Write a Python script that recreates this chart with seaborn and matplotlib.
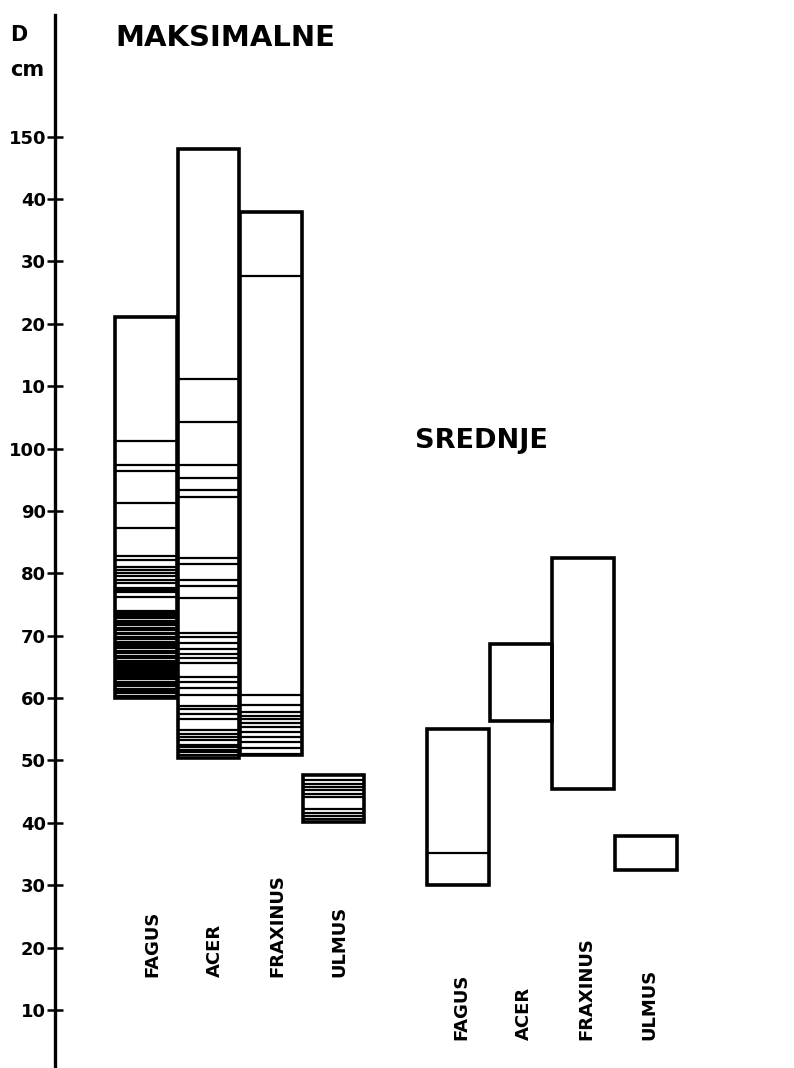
import pandas as pd
import matplotlib.pyplot as plt
import seaborn as sns

species = ["FAGUS", "ACER", "FRAXINUS", "ULMUS"]

# MAKSIMALNE: raspon promjera (cm) i pojedinacna stabla
max_low = [60.0, 50.4, 50.8, 40.2]
max_high = [121.1, 148.0, 138.0, 47.7]
fagus_max = [60.4, 60.8, 61.2, 61.5, 62.0, 62.3, 62.6, 63.0, 63.3, 63.7,
             64.0, 64.3, 64.6, 65.0, 65.3, 65.7, 66.0, 66.4, 66.8, 67.2,
             67.5, 68.0, 68.3, 68.7, 69.0, 69.4, 69.8, 70.2, 70.5, 70.9,
             71.3, 71.7, 72.0, 72.4, 72.8, 73.1, 73.4, 73.7, 74.0,
             76.2, 77.0, 77.3, 77.6, 78.4, 78.9, 79.5, 80.0, 80.5, 81.0,
             82.2, 82.8, 87.3, 91.2, 96.4, 97.4, 101.2]
acer_max = [50.9, 51.3, 51.7, 52.1, 52.5, 53.3, 53.8, 54.3, 54.9, 56.7,
            57.5, 58.2, 58.7, 60.5, 61.6, 62.5, 63.4, 65.7, 66.4, 67.0,
            67.8, 68.9, 69.8, 70.4, 76.1, 78.0, 78.9, 81.5, 82.4, 92.2,
            93.3, 95.3, 97.3, 104.3, 111.2]
fraxinus_max = [51.1, 52.0, 53.0, 53.8, 54.6, 55.4, 56.0, 56.6, 57.2,
                57.7, 58.9, 60.5, 127.6]
ulmus_max = [40.6, 41.1, 41.6, 42.2, 44.1, 44.7, 45.3, 45.8, 46.3, 46.9]

# SREDNJE: raspon i unutarnja crta
sred_low = [30.0, 56.3, 45.4, 32.4]
sred_high = [55.0, 68.7, 82.4, 37.9]
fagus_sred = [35.2]

y_ticks = [10, 20, 30, 40, 50, 60, 70, 80, 90, 100, 110, 120, 130, 140, 150]
y_labels = ["10", "20", "30", "40", "50", "60", "70", "80", "90", "100",
            "10", "20", "30", "40", "150"]

max_pos = [0, 1, 2, 3]
sred_pos = [5, 6, 7, 8]

lines = pd.concat([
    pd.DataFrame({"x": max_pos[0], "d": fagus_max}),
    pd.DataFrame({"x": max_pos[1], "d": acer_max}),
    pd.DataFrame({"x": max_pos[2], "d": fraxinus_max}),
    pd.DataFrame({"x": max_pos[3], "d": ulmus_max}),
    pd.DataFrame({"x": sred_pos[0], "d": fagus_sred}),
], ignore_index=True)

sns.set_theme(style="white")
plt.rcParams["font.family"] = ["DejaVu Sans"]
plt.rcParams["text.color"] = "black"
plt.rcParams["ytick.color"] = "black"
plt.rcParams["ytick.labelcolor"] = "black"

fig = plt.figure(figsize=(7.94, 10.68), dpi=100)
ax = fig.add_axes([55 / 794, 0, 1 - 55 / 794, 1 - 15 / 1068])

w = 0.99
# pojedinacna stabla
ax.hlines(lines["d"], lines["x"] - w / 2, lines["x"] + w / 2,
          color="black", linewidth=1.6)

# okviri
for pos, lo, hi in zip(max_pos + sred_pos, max_low + sred_low, max_high + sred_high):
    ax.bar(pos, hi - lo, bottom=lo, width=w, fill=False,
           edgecolor="black", linewidth=2.6)

ax.set_xlim(-1.456, 10.37)
ax.set_ylim(0.7, 169.5)
ax.set_yticks(y_ticks)
ax.set_yticklabels(y_labels, fontsize=13, fontweight="bold", color="black")
ax.set_xticks([])
ax.tick_params(axis="y", direction="inout", length=11, width=1.8, pad=1,
               left=True, colors="black")
sns.despine(ax=ax, bottom=True)
ax.spines["left"].set_linewidth(2.4)
ax.spines["left"].set_color("black")

for pos, name in zip(max_pos, species):
    ax.text(pos + 0.1, 15.3, name, rotation=90, ha="center", va="bottom",
            fontsize=13, fontweight="bold", color="black")
for pos, name in zip(sred_pos, species):
    ax.text(pos + 0.05, 5.2, name, rotation=90, ha="center", va="bottom",
            fontsize=13, fontweight="bold", color="black")

fig.text(115 / 794, 1 - 38 / 1068, "MAKSIMALNE", fontsize=21,
         fontweight="bold", va="center", ha="left", color="black")
fig.text(415 / 794, 1 - 441 / 1068, "SREDNJE", fontsize=19.5,
         fontweight="bold", va="center", ha="left", color="black")
fig.text(10 / 794, 1 - 35 / 1068, "D", fontsize=15, fontweight="bold",
         va="center", ha="left", color="black")
fig.text(10 / 794, 1 - 70 / 1068, "cm", fontsize=15, fontweight="bold",
         va="center", ha="left", color="black")

fig.savefig("out.png", dpi=100)
